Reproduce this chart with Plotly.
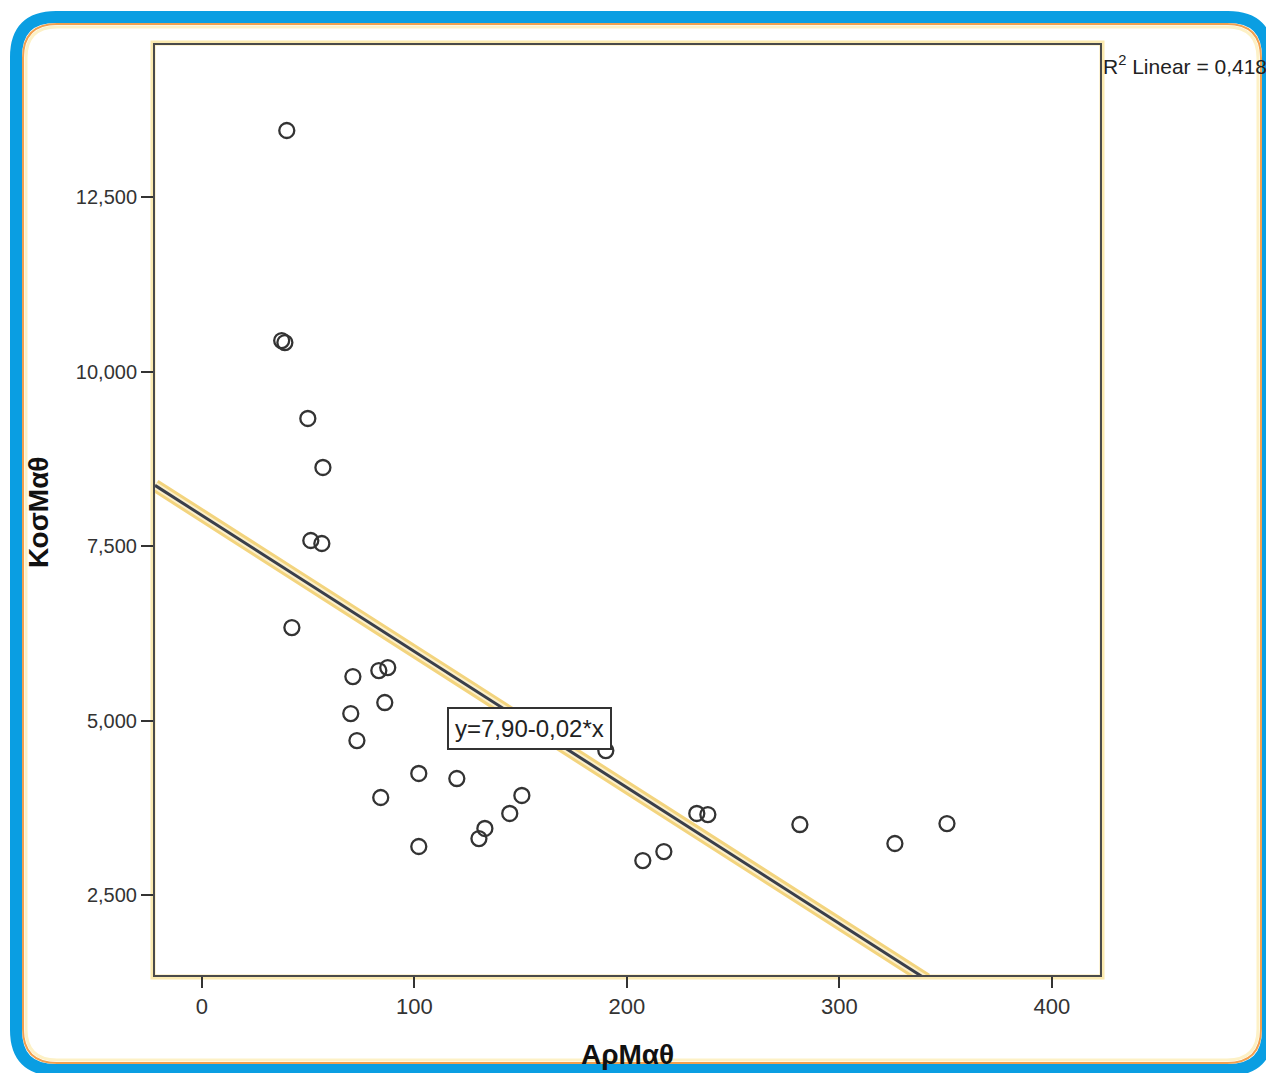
import plotly.graph_objects as go

# Data (x = ΑρΜαθ, y = ΚοσΜαθ)
x_vals = [40.0, 37.6, 39.1, 49.9, 57.0, 51.3, 56.5, 42.4, 71.1, 83.3,
          87.5, 86.1, 70.1, 73.0, 102.1, 120.0, 84.2, 102.1, 130.4, 133.2,
          144.9, 150.6, 190.1, 207.5, 217.4, 232.9, 238.1, 281.4, 326.1, 350.6]
y_vals = [13.453, 10.444, 10.415, 9.327, 8.625, 7.579, 7.536, 6.332, 5.630, 5.716,
          5.759, 5.258, 5.100, 4.713, 4.241, 4.169, 3.897, 3.195, 3.309, 3.453,
          3.668, 3.926, 4.570, 2.994, 3.123, 3.668, 3.653, 3.510, 3.238, 3.524]

fit_intercept = 7.94
fit_slope = -0.0195
fit_x = [-22, 341]
fit_y = [fit_intercept + fit_slope * v for v in fit_x]

x_ticks = [0, 100, 200, 300, 400]
y_ticks = [2.5, 5.0, 7.5, 10.0, 12.5]
y_ticktext = ["2,500", "5,000", "7,500", "10,000", "12,500"]

OFF = 8  # page body margin
W, H = 1274 - OFF, 1073 - OFF
L, R, T, B = 155, 1100, 45, 975  # in page pixels


def px(xp):
    return (xp - L) / (R - L)


def py(yp):
    return (B - yp) / (B - T)


def rounded(l, t, r, b, rad):
    pts = [
        f"M {px(l + rad)},{py(t)}",
        f"L {px(r - rad)},{py(t)}",
        f"Q {px(r)},{py(t)} {px(r)},{py(t + rad)}",
        f"L {px(r)},{py(b - rad)}",
        f"Q {px(r)},{py(b)} {px(r - rad)},{py(b)}",
        f"L {px(l + rad)},{py(b)}",
        f"Q {px(l)},{py(b)} {px(l)},{py(b - rad)}",
        f"L {px(l)},{py(t + rad)}",
        f"Q {px(l)},{py(t)} {px(l + rad)},{py(t)}",
        "Z",
    ]
    return " ".join(pts)


fig = go.Figure()

# fit line halo + line
fig.add_trace(go.Scatter(x=fit_x, y=fit_y, mode="lines",
                         line=dict(color="#f3d47e", width=13),
                         hoverinfo="skip", showlegend=False, cliponaxis=False))
fig.add_trace(go.Scatter(x=fit_x, y=fit_y, mode="lines",
                         line=dict(color="#fbf0cc", width=7),
                         hoverinfo="skip", showlegend=False, cliponaxis=False))
fig.add_trace(go.Scatter(x=fit_x, y=fit_y, mode="lines",
                         line=dict(color="#3a3f4a", width=3),
                         hoverinfo="skip", showlegend=False, cliponaxis=False))

# points
fig.add_trace(go.Scatter(x=x_vals, y=y_vals, mode="markers",
                         marker=dict(symbol="circle-open", size=15,
                                     line=dict(color="#333333", width=2.3),
                                     color="#333333"),
                         showlegend=False))

shapes = [
    dict(type="rect", xref="paper", yref="paper", x0=px(L - 2), x1=px(R + 2),
         y0=py(B + 2), y1=py(T - 2), line=dict(color="#fbeab0", width=5), layer="below"),
    dict(type="path", xref="paper", yref="paper",
         path=rounded(16, 17, 1268, 1070, 40),
         line=dict(color="#0a9ee2", width=12), layer="above"),
    dict(type="path", xref="paper", yref="paper",
         path=rounded(23, 24, 1261, 1063, 34),
         line=dict(color="#f2a04e", width=2), layer="above"),
    dict(type="path", xref="paper", yref="paper",
         path=rounded(26, 27, 1258, 1060, 31),
         line=dict(color="#fdf1c6", width=3), layer="above"),
]

annotations = [
    dict(text="y=7,90-0,02*x", x=154.4, y=4.885, xref="x", yref="y",
         showarrow=False, font=dict(family="Liberation Sans, Arial", size=24, color="#222222"),
         bgcolor="white", bordercolor="#333333", borderwidth=2, borderpad=6),
    dict(text="R<sup>2</sup> Linear = 0,418", x=px(1101), y=py(65), xref="paper", yref="paper",
         xanchor="left", yanchor="middle", showarrow=False,
         font=dict(family="Liberation Sans, Arial", size=21, color="#222222")),
    dict(text="<b>ΑρΜαθ</b>", x=px(627), y=py(1054), xref="paper", yref="paper",
         xanchor="center", yanchor="middle", showarrow=False,
         font=dict(family="Liberation Sans, Arial", size=28, color="#111111")),
    dict(text="<b>ΚοσΜαθ</b>", x=px(38), y=py(512), xref="paper", yref="paper",
         xanchor="center", yanchor="middle", showarrow=False, textangle=-90,
         font=dict(family="Liberation Sans, Arial", size=28, color="#111111")),
]

fig.update_layout(
    width=W, height=H,
    margin=dict(l=L - OFF, r=1274 - R, t=T - OFF, b=1073 - B),
    paper_bgcolor="white", plot_bgcolor="white",
    shapes=shapes, annotations=annotations,
    font=dict(family="Liberation Sans, Arial", color="#333333"),
)

fig.update_xaxes(range=[-22, 422.6], tickvals=x_ticks, ticktext=[str(v) for v in x_ticks],
                 showgrid=False, zeroline=False, showline=True, mirror=True,
                 linecolor="#4a4a4a", linewidth=2, ticks="outside", ticklen=11,
                 tickwidth=2, tickcolor="#333333",
                 tickfont=dict(size=22, color="#333333", family="Liberation Sans Narrow, Liberation Sans"))
fig.update_yaxes(range=[1.354, 14.678], tickvals=y_ticks, ticktext=y_ticktext,
                 showgrid=False, zeroline=False, showline=True, mirror=True,
                 linecolor="#4a4a4a", linewidth=2, ticks="outside", ticklen=12,
                 tickwidth=2, tickcolor="#333333",
                 tickfont=dict(size=20, color="#333333", family="Liberation Sans"))

fig.write_html("out.html")
